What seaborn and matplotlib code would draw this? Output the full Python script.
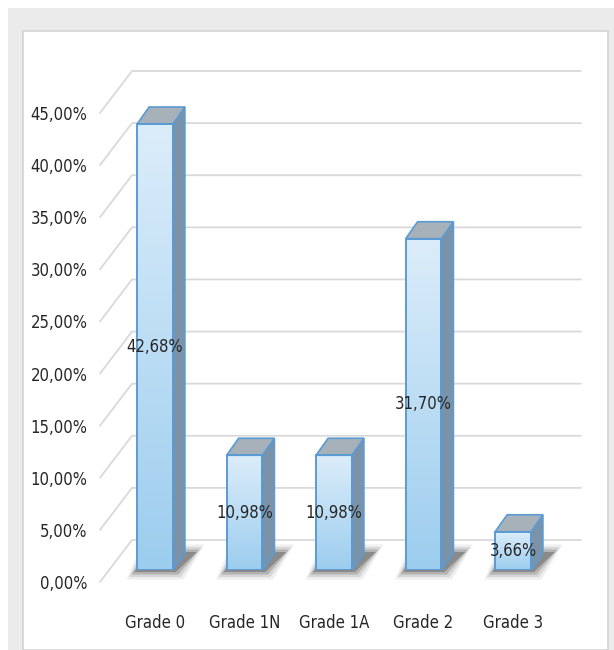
import numpy as np
import pandas as pd
import matplotlib
matplotlib.use("Agg")
import matplotlib.pyplot as plt
import seaborn as sns
from matplotlib.patches import Rectangle, Polygon
from matplotlib.ticker import FuncFormatter
from matplotlib.colors import LinearSegmentedColormap

# ---- data ----
grades = ["Grade 0", "Grade 1N", "Grade 1A", "Grade 2", "Grade 3"]
percent = [42.68, 10.98, 10.98, 31.70, 3.66]
y_ticks = [0, 5, 10, 15, 20, 25, 30, 35, 40, 45]

sns.set_theme(style="white")
plt.rcParams['font.family'] = ['Liberation Sans Narrow', 'DejaVu Sans']
plt.rcParams['font.stretch'] = 'condensed'

W, H = 614, 650
fig = plt.figure(figsize=(W / 100, H / 100), dpi=100)
fig.patch.set_facecolor("white")

def fx(px):
    return px / W

def fy(py):
    return 1 - py / H

fig.add_artist(Rectangle((fx(8), 0), 1 - fx(8), fy(8), transform=fig.transFigure,
                         facecolor="#ebebec", edgecolor="none", zorder=0))
fig.add_artist(Rectangle((fx(23), 0), fx(608) - fx(23), fy(31), transform=fig.transFigure,
                         facecolor="white", edgecolor="#d4d4d4", lw=1.2, zorder=0))

FS = 12
TXT = "#262626"

# ---- grid axes ----
gx0, gx1 = 100, 549
gy0, gy1 = 582, 113
ax_g = fig.add_axes([fx(gx0), fy(gy0), fx(gx1) - fx(gx0), fy(gy1) - fy(gy0)])
ax_g.set_ylim(0, 45)
ax_g.set_xlim(0, 1)
ax_g.patch.set_alpha(0)
for s in ax_g.spines.values():
    s.set_visible(False)
ax_g.set_xticks([])
ax_g.set_yticks(y_ticks)
ax_g.yaxis.set_major_formatter(FuncFormatter(lambda v, p: f"{v:.2f}%".replace(".", ",")))
ax_g.tick_params(axis="y", length=0, pad=9, labelsize=FS, labelcolor=TXT)
for lab in ax_g.get_yticklabels():
    lab.set_fontstretch('condensed')

back_dx, back_dy = 32, 42
inv_g = ax_g.transData.inverted()
for t in y_ticks:
    front = ax_g.transData.transform((0, t))
    back = front + np.array([back_dx, back_dy])
    right = ax_g.transData.transform((1, t)) + np.array([back_dx, back_dy])
    pts = inv_g.transform(np.array([front, back, right]))
    ax_g.plot(pts[:, 0], pts[:, 1], color="#d9d9d9", lw=1.3, clip_on=False, zorder=1)

# ---- bar axes ----
bx0, bx1 = 110.25, 557.75
by0 = 570
ppu = 10.45
ax_b = fig.add_axes([fx(bx0), fy(by0), fx(bx1) - fx(bx0), (45 * ppu) / H])
ax_b.patch.set_alpha(0)
df = pd.DataFrame({"grade": grades, "percent": percent})
sns.barplot(data=df, x="grade", y="percent", ax=ax_b, width=0.4,
            color="#bfe0f6", edgecolor="none", linewidth=0, zorder=3)
ax_b.set_xlim(-0.5, 4.5)
ax_b.set_ylim(0, 45)
ax_b.set_yticks([])
ax_b.set_xlabel("")
ax_b.set_ylabel("")
for s in ax_b.spines.values():
    s.set_visible(False)
ax_b.tick_params(axis="x", length=0, pad=32, labelsize=FS, labelcolor=TXT)

to_disp = ax_b.transData
inv_b = ax_b.transData.inverted()
bar_dx, bar_dy = 12, 17
grad_front = LinearSegmentedColormap.from_list("front", ["#9ccdee", "#dcedfa"])
edge = "#5b9bd5"

def off(pt, dx, dy):
    d = to_disp.transform(pt) + np.array([dx, dy])
    return inv_b.transform(d)

for patch in ax_b.patches:
    x0, y0 = patch.get_x(), patch.get_y()
    w, h = patch.get_width(), patch.get_height()
    # soft shadow behind/right of the bar foot
    for k, a in enumerate([0.10, 0.16, 0.28, 0.45]):
        g = (3 - k) * 2.5
        sp = [off((x0, 0), -3 - g, -2 - g),
              off((x0 + w, 0), 3 + g, -2 - g),
              off((x0 + w, 0), bar_dx + 12 + g, bar_dy + 1 + g),
              off((x0, 0), bar_dx - g, bar_dy + 1 + g)]
        ax_b.add_patch(Polygon(sp, closed=True, facecolor="#5a5a5a", edgecolor="none",
                               alpha=a, zorder=2, clip_on=False))
    # front face gradient
    patch.set_facecolor("none")
    grad = np.linspace(0, 1, 256).reshape(-1, 1)
    im = ax_b.imshow(grad, cmap=grad_front, origin="lower", aspect="auto",
                     extent=(x0, x0 + w, y0, y0 + h), zorder=3)
    im.set_clip_path(patch)
    ax_b.add_patch(Rectangle((x0, y0), w, h, facecolor="none", edgecolor=edge,
                             lw=1.4, zorder=5))
    # side face
    side = [off((x0 + w, 0), 0, 0), off((x0 + w, h), 0, 0),
            off((x0 + w, h), bar_dx, bar_dy), off((x0 + w, 0), bar_dx, bar_dy)]
    ax_b.add_patch(Polygon(side, closed=True, facecolor="#7a93a8", edgecolor=edge,
                           lw=1.2, zorder=4, clip_on=False))
    # top face
    top = [off((x0, h), 0, 0), off((x0 + w, h), 0, 0),
           off((x0 + w, h), bar_dx, bar_dy), off((x0, h), bar_dx, bar_dy)]
    ax_b.add_patch(Polygon(top, closed=True, facecolor="#a7b1b9", edgecolor=edge,
                           lw=1.2, zorder=4, clip_on=False))

ax_b.set_xlim(-0.5, 4.5)
ax_b.set_ylim(0, 45)
for lab in ax_b.get_xticklabels():
    lab.set_fontstretch('condensed')

container = ax_b.containers[0]
ax_b.bar_label(container, labels=[f"{v:.2f}%".replace(".", ",") for v in percent],
               label_type="center", fontsize=FS, color=TXT, zorder=6,
               fontstretch='condensed')

fig.savefig("out.png", dpi=100)
